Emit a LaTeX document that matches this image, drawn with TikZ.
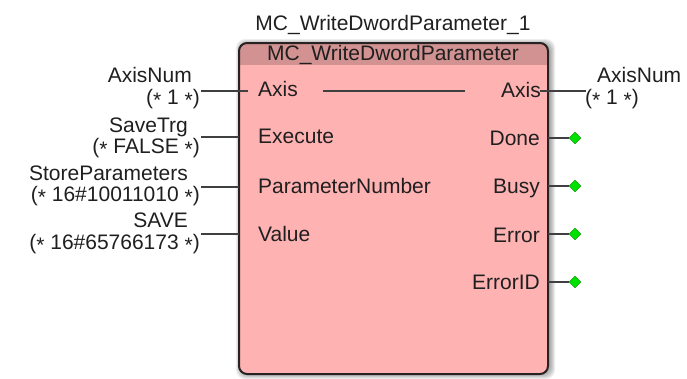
\documentclass[tikz,border=0pt]{standalone}
\usepackage{fontspec}
\setmainfont{Liberation Sans}
\usetikzlibrary{positioning,shapes.geometric}
\definecolor{fbbody}{RGB}{255,178,178}
\definecolor{fbhead}{RGB}{210,146,146}
\definecolor{fbline}{RGB}{40,34,34}
\definecolor{wiregray}{RGB}{64,64,64}
\definecolor{pingreen}{RGB}{0,225,0}
% centred asterisk for the initial values
\newcommand{\stx}{\raisebox{-0.32ex}{*}}

\begin{document}
\begin{tikzpicture}[x=1pt, y=-1pt,
  lbl/.style={inner sep=0pt, anchor=base, font=\fontsize{21}{21}\selectfont, text=black!88},
  lblL/.style={lbl, anchor=base west},
  lblR/.style={lbl, anchor=base east},
  wire/.style={draw=wiregray, line width=1.6pt},
  outpin/.style={diamond, fill=pingreen, draw=green!55!black, line width=0.3pt,
    inner sep=0pt, minimum width=12pt, minimum height=12pt},
  fbox/.style={fill=fbbody, rounded corners=8pt, inner sep=0pt, outer sep=0pt,
    minimum width=309pt, minimum height=331pt}
]
\useasboundingbox (0,0) rectangle (687,378);

% shadow
\foreach \o in {1,2,3,4,5}
  \fill[black, opacity=0.07, rounded corners=9pt]
    (239-\o+2,43-\o+1) rectangle (548+\o+2,374+\o);

% function block
\node[fbox] (fb) at (393.5,208.5) {};
\begin{scope}
  \clip[rounded corners=8pt] (fb.north west) rectangle (fb.south east);
  \fill[fbhead] (fb.north west) rectangle (548,65);
\end{scope}
\draw[fbline, line width=2pt, rounded corners=8pt] (fb.north west) rectangle (fb.south east);

% names
\node[lbl] (inst) at (393,30) {MC\_WriteDwordParameter\_1};
\node[lbl] (ftype) at (393,60) {MC\_WriteDwordParameter};

% input pins
\node[lblL] (pAxisIn) at (258,96) {Axis};
\node[lblL] (pExec) at (258,143) {Execute};
\node[lblL] (pParNum) at (258,193) {ParameterNumber};
\node[lblL] (pValue) at (258,241) {Value};

% output pins
\node[lblR] (pAxisOut) at (541,97) {Axis};
\node[lblR] (pDone) at (540,145) {Done};
\node[lblR] (pBusy) at (540,193) {Busy};
\node[lblR] (pError) at (540,242) {Error};
\node[lblR] (pErrID) at (540,289) {ErrorID};

% input variables
\node[lblR] (nAxis) at (192,82) {AxisNum};
\node[lblR] (vAxis) at (200,104) {(\stx{} 1 \stx)};
\node[lblR] (nSave) at (188,132) {SaveTrg};
\node[lblR] (vSave) at (200,153) {(\stx{} FALSE \stx)};
\node[lblR] (nStore) at (188,180) {StoreParameters};
\node[lblR] (vStore) at (200,201) {(\stx{} 16\#10011010 \stx)};
\node[lblR] (nVal) at (188,227) {SAVE};
\node[lblR] (vVal) at (200,249) {(\stx{} 16\#65766173 \stx)};

% output variable
\node[lblL] (vAxisR) at (585,104) {(\stx{} 1 \stx)};
\node[lblL] (nAxisR) at (597,82) {AxisNum};

% wire ends
\coordinate (wAxis) at (201,91);
\coordinate (wAxisPin) at (248,91);
\coordinate (wAxisA) at (323,91);
\coordinate (wAxisB) at (465,91);
\coordinate (wAxisOut) at (540,91);
\coordinate (wAxisR) at (586,91);
\coordinate (wExec) at (201,137);
\coordinate (wParNum) at (201,187);
\coordinate (wValue) at (201,234);

% output flags
\node[outpin] (dDone) at (575,138) {};
\node[outpin] (dBusy) at (575,186) {};
\node[outpin] (dError) at (575,234) {};
\node[outpin] (dErrID) at (575,282) {};

\draw[wire] (wAxis) -- (wAxisPin);
\draw[wire] (wAxisA) -- (wAxisB);
\draw[wire] (wAxisOut) -- (wAxisR);
\draw[wire] (wExec) -- (wExec -| fb.west);
\draw[wire] (wParNum) -- (wParNum -| fb.west);
\draw[wire] (wValue) -- (wValue -| fb.west);
\draw[wire] (dDone.west -| fb.east) -- (dDone.west);
\draw[wire] (dBusy.west -| fb.east) -- (dBusy.west);
\draw[wire] (dError.west -| fb.east) -- (dError.west);
\draw[wire] (dErrID.west -| fb.east) -- (dErrID.west);

\end{tikzpicture}
\end{document}
